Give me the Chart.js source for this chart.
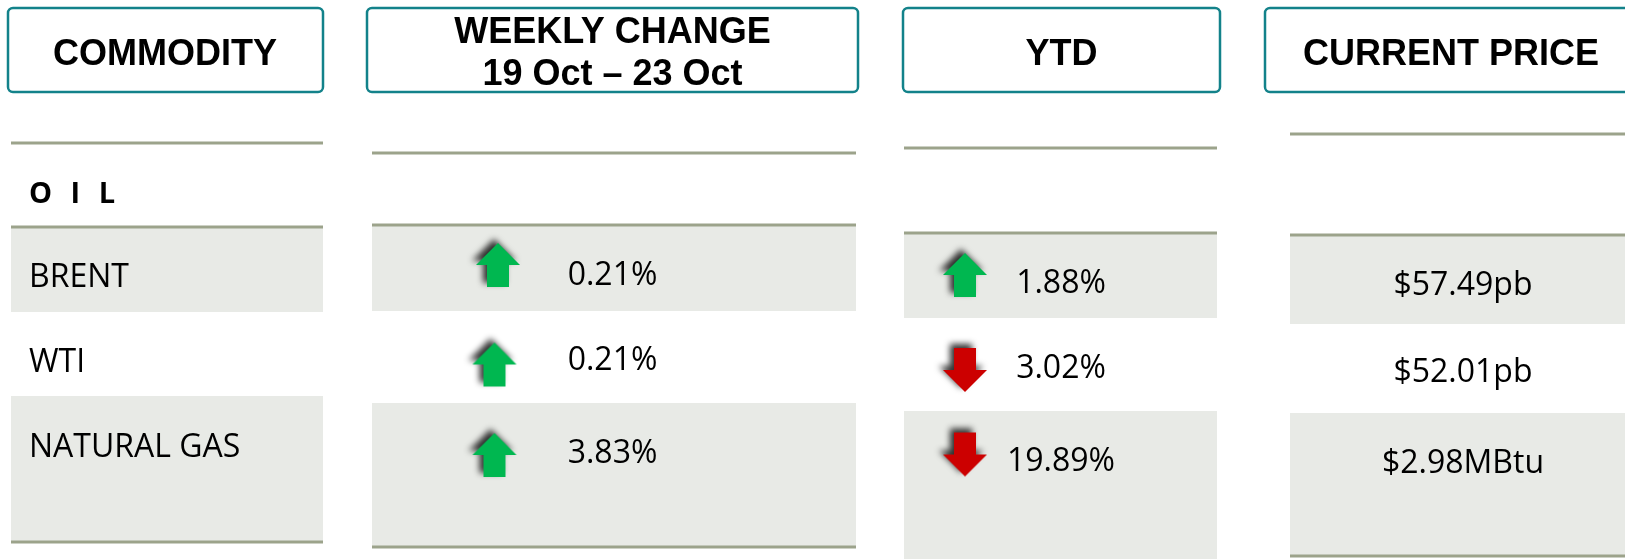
<!DOCTYPE html>
<html lang="en">
<head>
<meta charset="UTF-8">
<title>Commodities - weekly change</title>
<script src="https://cdn.jsdelivr.net/npm/chart.js"></script>
<style>
  html, body { margin: 0; padding: 0; background: #fff; }
  #wrap { width: 1625px; height: 559px; position: relative; }
</style>
</head>
<body>
<div id="wrap"><canvas id="table"></canvas></div>
<script>
// ---- data ----
const groupLabel = 'OIL';
const commodities = ['BRENT', 'WTI', 'NATURAL GAS'];
const weeklyChange = [0.21, 0.21, 3.83];
const ytdChange = [1.88, -3.02, -19.89];
const currentPrice = [57.49, 52.01, 2.98];
const priceUnits = ['pb', 'pb', 'MBtu'];
const headers = [['COMMODITY'], ['WEEKLY CHANGE', '19 Oct \u2013 23 Oct'], ['YTD'], ['CURRENT PRICE']];

// ---- layout (values on the page-sized x/y scales) ----
const cols = [
  { box: [8, 323], headX: 165, headBase: [65], line: [11, 323], headLine: 143, rowLine: 227,
    band1: [228, 312], band2: [396, 541], bottomLine: 542, textX: 29, textBase: [287, 372, 457] },
  { box: [367, 858], headX: 612.5, headBase: [43, 85], line: [372, 856], headLine: 153, rowLine: 225,
    band1: [226, 311], band2: [403, 546], bottomLine: 547, textX: 612.5, textBase: [285, 370, 463],
    arrowX: [498, 494.5, 494.5], arrowY: [265, 364.5, 455] },
  { box: [903, 1220], headX: 1061.5, headBase: [65], line: [904, 1217], headLine: 148, rowLine: 233,
    band1: [234, 318], band2: [411, 559], bottomLine: null, textX: 1061, textBase: [293, 378, 471],
    arrowX: [965, 965, 965], arrowY: [275, 370, 454.5] },
  { box: [1265, 1637], headX: 1451, headBase: [65], line: [1290, 1640], headLine: 134, rowLine: 235,
    band1: [236, 324], band2: [413, 555], bottomLine: 556, textX: 1463, textBase: [295, 382, 473] }
];
const boxTop = 8, boxBottom = 92;
const oilBase = 203;

const TEAL = '#13828a';
const RULE = '#9ca38b';
const SHADE = '#e8eae6';
const UP = '#00b750';
const DOWN = '#cc0000';

function makeArrow(up, color) {
  const c = document.createElement('canvas');
  c.width = 70; c.height = 70;
  const g = c.getContext('2d');
  g.translate(35, 35);
  if (!up) g.rotate(Math.PI);
  g.shadowColor = 'rgba(0,0,0,0.8)';
  g.shadowBlur = 6;
  g.shadowOffsetX = -4;
  g.shadowOffsetY = -4;
  g.beginPath();
  g.moveTo(0, -22); g.lineTo(22, 0); g.lineTo(11, 0); g.lineTo(11, 22);
  g.lineTo(-11, 22); g.lineTo(-11, 0); g.lineTo(-22, 0); g.closePath();
  g.fillStyle = color;
  g.fill();
  return c;
}
const upArrow = makeArrow(true, UP);
const downArrow = makeArrow(false, DOWN);

const pct = v => Math.abs(v).toFixed(2) + '%';
const price = (v, i) => '$' + v.toFixed(2) + priceUnits[i];

const tablePlugin = {
  id: 'tablePlugin',
  beforeDatasetsDraw(chart) {
    const { ctx, scales: { x, y } } = chart;
    const X = v => x.getPixelForValue(v), Y = v => y.getPixelForValue(v);
    ctx.save();
    cols.forEach(c => {
      // shaded rows
      ctx.fillStyle = SHADE;
      [c.band1, c.band2].forEach(b => ctx.fillRect(X(c.line[0]), Y(b[0]), X(c.line[1]) - X(c.line[0]), Y(b[1]) - Y(b[0])));
      // rules
      ctx.fillStyle = RULE;
      [c.headLine, c.rowLine, c.bottomLine].forEach(l => {
        if (l == null) return;
        ctx.fillRect(X(c.line[0]), Y(l) - 1.5, X(c.line[1]) - X(c.line[0]), 3);
      });
      // header box
      ctx.beginPath();
      ctx.roundRect(X(c.box[0]), Y(boxTop), X(c.box[1]) - X(c.box[0]), Y(boxBottom) - Y(boxTop), 5);
      ctx.lineWidth = 2.5;
      ctx.strokeStyle = TEAL;
      ctx.stroke();
    });
    ctx.restore();
  },
  afterDatasetsDraw(chart) {
    const { ctx, scales: { x, y } } = chart;
    const X = v => x.getPixelForValue(v), Y = v => y.getPixelForValue(v);
    ctx.save();
    ctx.fillStyle = '#000';
    ctx.textBaseline = 'alphabetic';

    // headers
    ctx.font = 'bold 36px "Liberation Sans", Arial, sans-serif';
    ctx.textAlign = 'center';
    headers.forEach((h, i) => {
      const c = cols[i];
      h.forEach((line, j) => ctx.fillText(line, X(c.headX), Y(c.headBase[j])));
    });

    // group label
    ctx.textAlign = 'left';
    ctx.font = 'bold 29px "Open Sans", sans-serif';
    ctx.letterSpacing = '5.5px';
    ctx.fillText(groupLabel.split('').join(' '), X(cols[0].textX), Y(oilBase));
    ctx.letterSpacing = '0px';

    // body
    ctx.font = '32px "Open Sans", sans-serif';
    commodities.forEach((name, i) => ctx.fillText(name, X(cols[0].textX), Y(cols[0].textBase[i])));
    ctx.textAlign = 'center';
    weeklyChange.forEach((v, i) => ctx.fillText(pct(v), X(cols[1].textX), Y(cols[1].textBase[i])));
    ytdChange.forEach((v, i) => ctx.fillText(pct(v), X(cols[2].textX), Y(cols[2].textBase[i])));
    currentPrice.forEach((v, i) => ctx.fillText(price(v, i), X(cols[3].textX), Y(cols[3].textBase[i])));
    ctx.restore();
  }
};

const arrowData = (vals, c) => vals.map((v, i) => ({ x: c.arrowX[i], y: c.arrowY[i], v }));

new Chart(document.getElementById('table'), {
  type: 'scatter',
  data: {
    datasets: [
      {
        label: 'Weekly change',
        data: arrowData(weeklyChange, cols[1]),
        pointStyle: weeklyChange.map(v => v >= 0 ? upArrow : downArrow),
        pointRadius: 22
      },
      {
        label: 'YTD',
        data: arrowData(ytdChange, cols[2]),
        pointStyle: ytdChange.map(v => v >= 0 ? upArrow : downArrow),
        pointRadius: 22
      }
    ]
  },
  options: {
    responsive: true,
    maintainAspectRatio: false,
    animation: false,
    events: [],
    layout: { padding: 0, autoPadding: false },
    plugins: { legend: { display: false }, tooltip: { enabled: false } },
    scales: {
      x: { type: 'linear', min: 0, max: 1625, display: false },
      y: { type: 'linear', min: 0, max: 559, reverse: true, display: false }
    }
  },
  plugins: [tablePlugin]
});
</script>
</body>
</html>
